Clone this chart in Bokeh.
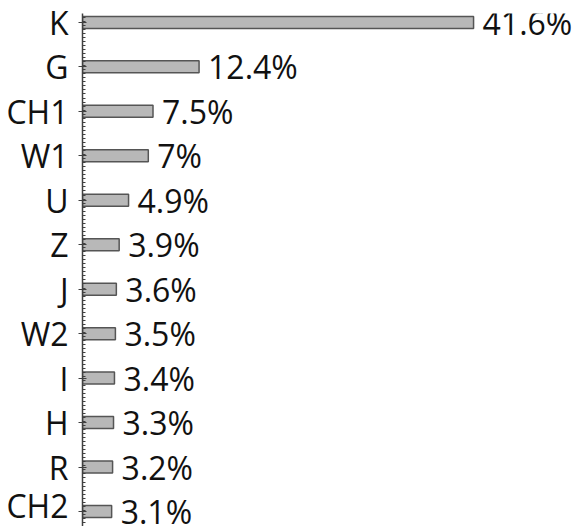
import numpy as np
from bokeh.plotting import figure
from bokeh.models import ColumnDataSource, FixedTicker, Range1d
from bokeh.core.properties import value
from bokeh.embed import file_html
from bokeh.resources import INLINE

categories = ["K", "G", "CH1", "W1", "U", "Z", "J", "W2", "I", "H", "R", "CH2"]
values = [41.6, 12.4, 7.5, 7, 4.9, 3.9, 3.6, 3.5, 3.4, 3.3, 3.2, 3.1]
labels = ["41.6%", "12.4%", "7.5%", "7%", "4.9%", "3.9%", "3.6%", "3.5%", "3.4%", "3.3%", "3.2%", "3.1%"]

n = len(categories)
ypos = [n - 1 - i for i in range(n)]
src = ColumnDataSource(dict(y=ypos, v=values, lab=labels, cat=categories))

p = figure(width=576, height=526, output_backend="svg", toolbar_location=None,
           x_range=Range1d(0, 52.55), y_range=Range1d(-0.337, 11.2),
           min_border_left=82, min_border_right=0, min_border_top=13, min_border_bottom=0)
p.outline_line_color = None
p.xaxis.visible = False
p.xgrid.visible = False
p.ygrid.visible = False

p.hbar(y="y", left=0, right="v", height=0.27, source=src,
       fill_color="#b8b8b8", line_color="#555555", line_width=1.5)
p.text(x="v", y="y", text="lab", source=src, x_offset=9,
       text_font=value("Open Sans"), text_font_size="32px",
       text_baseline="middle", text_align="left", text_color="#111111")

yax = p.yaxis[0]
minor = list(np.arange(-0.337, 11.2, 1 / 11.0))
yax.ticker = FixedTicker(ticks=ypos, minor_ticks=minor)
yax.major_label_overrides = {y: c for y, c in zip(ypos, categories)}
yax.major_label_text_font = "Open Sans"
yax.major_label_text_font_size = "32px"
yax.major_label_text_color = "#111111"
yax.major_label_standoff = 10
yax.axis_line_color = "#404040"
yax.axis_line_width = 1.5
yax.major_tick_line_color = "#404040"
yax.major_tick_in = 4
yax.major_tick_out = 4
yax.minor_tick_line_color = "#404040"
yax.minor_tick_in = 3
yax.minor_tick_out = 0

open("out.html", "w").write(file_html(p, INLINE))
